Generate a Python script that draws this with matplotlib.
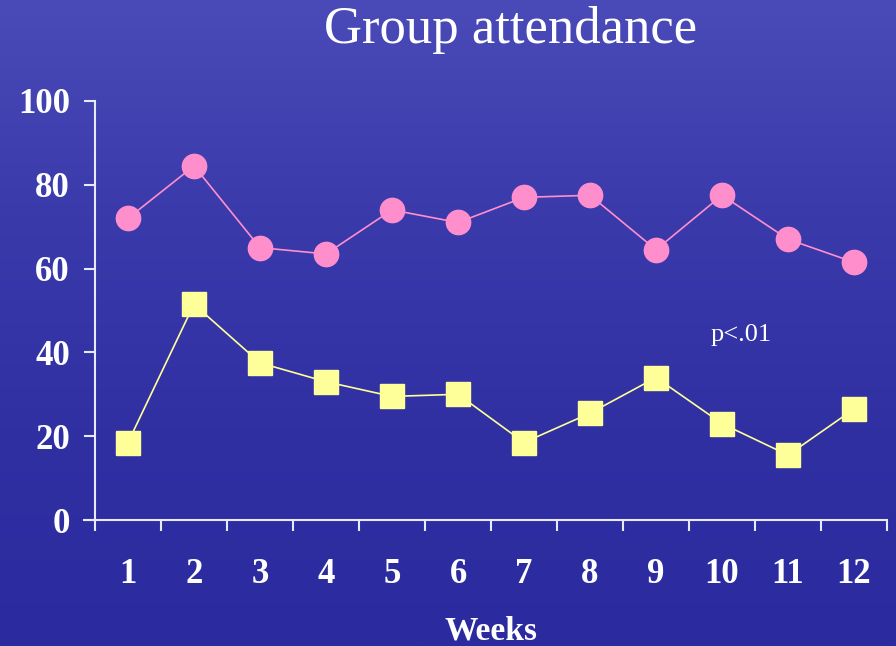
import matplotlib
matplotlib.use("Agg")
import matplotlib.pyplot as plt
import numpy as np
from matplotlib.colors import LinearSegmentedColormap

# Weekly attendance (%) for the two groups
weeks = [1, 2, 3, 4, 5, 6, 7, 8, 9, 10, 11, 12]
group_a = [72, 84.5, 65, 63.5, 74, 71, 77, 77.5, 64.5, 77.5, 67, 61.5]
group_b = [18.5, 51.5, 37.5, 33, 29.5, 30, 18.5, 25.5, 34, 23, 15.5, 26.5]
y_ticks = [0, 20, 40, 60, 80, 100]

pink = "#ff8fcc"
yellow = "#ffff99"
axis_col = "#e8e8ff"
serif = ["Liberation Serif", "DejaVu Serif"]

fig = plt.figure(figsize=(8.96, 6.46), dpi=100)

# blue slide background, lighter at the top
bg = fig.add_axes([0, 0, 1, 1], zorder=-10)
bg_cmap = LinearSegmentedColormap.from_list(
    "slide", ["#4a4ab8", "#3a3aab", "#3030a3", "#2b2b9f"])
bg.imshow(np.linspace(0, 1, 256).reshape(-1, 1), aspect="auto",
          cmap=bg_cmap, extent=[0, 1, 0, 1])
bg.axis("off")

ax = fig.add_axes([0.106, 0.195, 0.884, 0.6487])
ax.patch.set_alpha(0)

ax.plot(weeks, group_a, color=pink, lw=1.2, marker="o", ms=17.5,
        mfc=pink, mec=pink, zorder=3)
ax.plot(weeks, group_b, color=yellow, lw=1.2, marker="s", ms=17.5,
        mfc=yellow, mec=yellow, zorder=3)

ax.set_xlim(0.5, 12.5)
ax.set_ylim(0, 100)

for s in ["top", "right"]:
    ax.spines[s].set_visible(False)
for s in ["left", "bottom"]:
    ax.spines[s].set_color(axis_col)
    ax.spines[s].set_linewidth(1.5)
# x axis line runs a little past the y axis
ax.axhline(0, xmin=-0.014, xmax=0, color=axis_col, lw=1.5, clip_on=False)

# category boundaries carry the tick marks, labels sit in the middle
ax.set_xticks(np.arange(0.5, 13, 1))
ax.set_xticklabels([])
ax.set_xticks(weeks, minor=True)
ax.set_xticklabels([str(w) for w in weeks], minor=True)
ax.tick_params(axis="x", which="major", direction="out", length=8,
               width=1.5, color=axis_col)
ax.tick_params(axis="x", which="minor", length=0, pad=27)

ax.set_yticks(y_ticks)
ax.set_yticklabels([str(v) for v in y_ticks])
ax.tick_params(axis="y", direction="out", length=8, width=1.5,
               color=axis_col, pad=10)

for lab in ax.get_xticklabels(minor=True) + ax.get_yticklabels():
    lab.set_family(serif)
    lab.set_fontweight("bold")
    lab.set_fontsize(25)
    lab.set_color("white")

ax.text(10.29, 44.2, "p<.01", family=serif, fontsize=19, color="white",
        ha="center", va="center")

fig.text(0.57, 0.953, "Group attendance", family=serif, fontsize=38,
         color="white", ha="center", va="center")
fig.text(0.548, 0.023, "Weeks", family=serif, fontsize=24,
         fontweight="bold", color="white", ha="center", va="center")

fig.savefig("out.png", dpi=100, facecolor=fig.get_facecolor())
